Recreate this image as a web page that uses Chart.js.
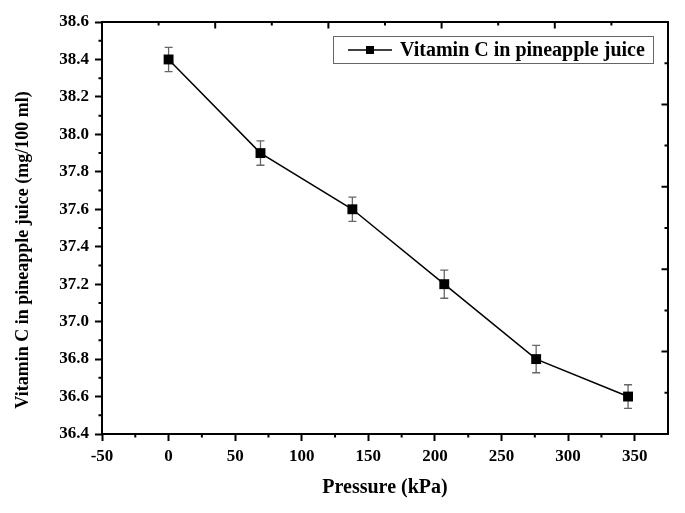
<!DOCTYPE html>
<html>
<head>
<meta charset="utf-8">
<title>Vitamin C in pineapple juice</title>
<script src="https://cdn.jsdelivr.net/npm/chart.js@4.4.1/dist/chart.umd.min.js"></script>
<style>
  html, body { margin: 0; padding: 0; background: #fff; }
  #chart { display: block; }
</style>
</head>
<body>
<canvas id="chart" width="685" height="513"></canvas>
<script>
// data
const pressure = [0, 69, 138, 207, 276, 345];
const vitaminC = [38.4, 37.9, 37.6, 37.2, 36.8, 36.6];
const vitaminErr = [0.065, 0.065, 0.065, 0.075, 0.073, 0.063];
const xTicks = [-50, 0, 50, 100, 150, 200, 250, 300, 350];
const yTicks = [36.4, 36.6, 36.8, 37.0, 37.2, 37.4, 37.6, 37.8, 38.0, 38.2, 38.4, 38.6];
const seriesLabel = 'Vitamin C in pineapple juice';
const xTitle = 'Pressure (kPa)';
const yTitle = 'Vitamin C in pineapple juice (mg/100 ml)';

const FONT = '"Liberation Serif", "Times New Roman", serif';

// error bars, minor ticks, frame, legend
const decorations = {
  id: 'decorations',
  beforeDatasetsDraw(chart) {
    const ctx = chart.ctx;
    const xs = chart.scales.x, ys = chart.scales.y;
    ctx.save();
    ctx.strokeStyle = '#666';
    ctx.lineWidth = 1.3;
    pressure.forEach((p, i) => {
      const x = xs.getPixelForValue(p);
      const y1 = ys.getPixelForValue(vitaminC[i] + vitaminErr[i]);
      const y2 = ys.getPixelForValue(vitaminC[i] - vitaminErr[i]);
      ctx.beginPath();
      ctx.moveTo(x, y1); ctx.lineTo(x, y2);
      ctx.moveTo(x - 4, y1); ctx.lineTo(x + 4, y1);
      ctx.moveTo(x - 4, y2); ctx.lineTo(x + 4, y2);
      ctx.stroke();
    });
    ctx.restore();
  },
  afterDraw(chart) {
    const ctx = chart.ctx;
    const a = chart.chartArea;
    const xs = chart.scales.x, ys = chart.scales.y;
    const xt = chart.scales.x2, yr = chart.scales.y2;
    ctx.save();
    ctx.strokeStyle = '#000';
    ctx.lineWidth = 2;

    // minor ticks bottom and left
    ctx.beginPath();
    for (let v = -25; v < 375; v += 50) {
      const x = xs.getPixelForValue(v);
      ctx.moveTo(x, a.bottom); ctx.lineTo(x, a.bottom + 3.5);
    }
    for (let v = 36.5; v < 38.6; v += 0.2) {
      const y = ys.getPixelForValue(v);
      ctx.moveTo(a.left, y); ctx.lineTo(a.left - 3.5, y);
    }
    // top and right ticks, pointing inward
    for (let i = 1; i < 10; i++) {
      const len = i % 2 === 0 ? 6.5 : 3.5;
      const x = xt.getPixelForValue(i);
      ctx.moveTo(x, a.top); ctx.lineTo(x, a.top + len);
      const y = yr.getPixelForValue(i);
      ctx.moveTo(a.right, y); ctx.lineTo(a.right - len, y);
    }
    ctx.stroke();

    // frame
    ctx.strokeRect(a.left, a.top, a.right - a.left, a.bottom - a.top);

    // axis titles
    ctx.fillStyle = '#000';
    ctx.textAlign = 'center';
    ctx.textBaseline = 'middle';
    ctx.font = 'bold 20px ' + FONT;
    ctx.fillText(xTitle, (a.left + a.right) / 2, 488);
    ctx.save();
    ctx.font = 'bold 18px ' + FONT;
    ctx.translate(23, 250);
    ctx.rotate(-Math.PI / 2);
    ctx.fillText(yTitle, 0, 0);
    ctx.restore();

    // legend box
    ctx.font = 'bold 20px ' + FONT;
    const bx = a.right - 15, by = a.top + 14;
    const bw = 320, bh = 27;
    ctx.lineWidth = 1;
    ctx.strokeStyle = '#666';
    ctx.strokeRect(bx - bw + 0.5, by + 0.5, bw, bh);
    const ly = by + bh / 2 + 0.5;
    const lx = bx - bw + 15;
    ctx.strokeStyle = '#000';
    ctx.lineWidth = 1.5;
    ctx.beginPath();
    ctx.moveTo(lx, ly); ctx.lineTo(lx + 44, ly);
    ctx.stroke();
    ctx.fillRect(lx + 22 - 4, ly - 4, 8, 8);
    ctx.textAlign = 'left';
    ctx.fillText(chart.data.datasets[0].label, lx + 52, ly + 1);
    ctx.restore();
  }
};

const tickFont = { family: FONT, size: 17, weight: 'bold' };

new Chart(document.getElementById('chart').getContext('2d'), {
  type: 'line',
  data: {
    datasets: [
      {
        label: seriesLabel,
        data: pressure.map((p, i) => ({ x: p, y: vitaminC[i] })),
        borderColor: '#000',
        backgroundColor: '#000',
        borderWidth: 1.5,
        pointStyle: 'rect',
        pointRadius: 7,
        pointBorderWidth: 0,
        tension: 0,
      },
    ],
  },
  options: {
    responsive: false,
    animation: false,
    layout: { padding: { top: 22, right: 17, left: 0, bottom: 0 } },
    plugins: {
      legend: { display: false },
      tooltip: { enabled: false },
    },
    scales: {
      x: {
        type: 'linear',
        position: 'bottom',
        min: -50,
        max: 375,
        afterFit: (s) => { s.height = 79; },
        afterBuildTicks: (s) => { s.ticks = xTicks.map((v) => ({ value: v })); },
        ticks: {
          autoSkip: false,
          maxRotation: 0,
          padding: 5,
          color: '#000',
          font: tickFont,
        },
        grid: { drawOnChartArea: false, tickLength: 7, tickWidth: 2, tickColor: '#000' },
        border: { display: false },
      },
      y: {
        type: 'linear',
        position: 'left',
        min: 36.4,
        max: 38.6,
        afterFit: (s) => { s.width = 102; },
        afterBuildTicks: (s) => { s.ticks = yTicks.map((v) => ({ value: v })); },
        ticks: {
          autoSkip: false,
          padding: 6,
          color: '#000',
          font: tickFont,
          callback: (v) => Number(v).toFixed(1),
        },
        grid: { drawOnChartArea: false, tickLength: 7, tickWidth: 2, tickColor: '#000' },
        border: { display: false },
      },
      x2: { type: 'linear', position: 'top', min: 0, max: 10, display: false },
      y2: { type: 'linear', position: 'right', min: 0, max: 10, display: false },
    },
  },
  plugins: [decorations],
});
</script>
</body>
</html>
